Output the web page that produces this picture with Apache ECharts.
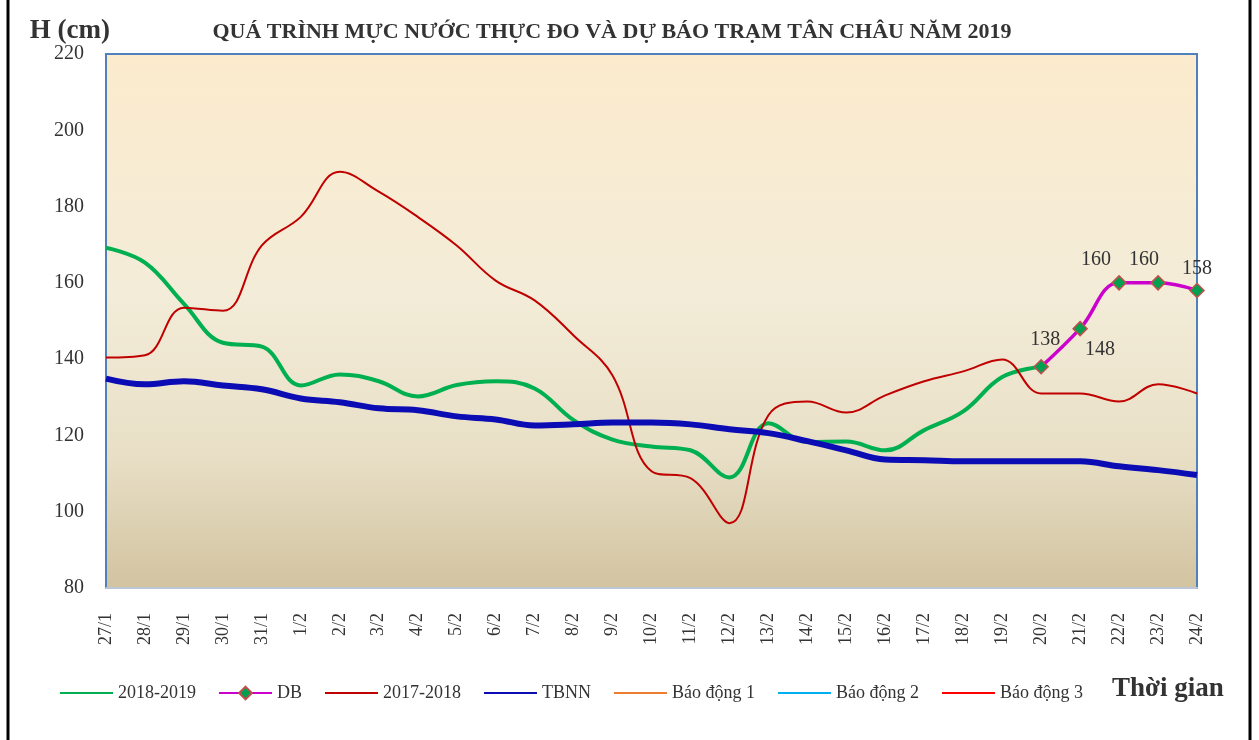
<!DOCTYPE html>
<html>
<head>
<meta charset="utf-8">
<script src="https://cdn.jsdelivr.net/npm/echarts@6/dist/echarts.min.js"></script>
<style>
	html, body { margin: 0; padding: 0; background: #fff; }
	#chart { width: 1259px; height: 740px; }
</style>
</head>
<body>
<div id="chart"></div>
<script>
// ngày quan trắc
var days = ['27/1','28/1','29/1','30/1','31/1','1/2','2/2','3/2','4/2','5/2','6/2','7/2','8/2','9/2',
	'10/2','11/2','12/2','13/2','14/2','15/2','16/2','17/2','18/2','19/2','20/2','21/2','22/2','23/2','24/2'];
// mực nước thực đo 2018-2019 (đến 20/2)
var level2019 = [169.2,165.3,154.5,144.3,143.3,133.1,136.0,134.2,130.2,133.2,134.2,132.3,124.0,118.9,
	117.1,116.1,109.0,123.2,118.3,118.4,116.1,121.4,126.3,135.3,138];
// dự báo (DB) từ 20/2
var forecastDays = ['20/2','21/2','22/2','23/2','24/2'];
var forecast = [138,148,160,160,158];
// cùng kỳ 2017-2018
var level2018 = [140.4,141.0,153.5,152.7,169.8,177.3,189.1,183.9,177.3,169.8,160.6,155.4,146.2,135.7,
	110.6,108.8,97.0,125.3,128.9,126.0,130.5,134.2,136.8,139.9,131.0,131.0,128.9,133.4,131.0];
// trung bình nhiều năm
var tbnn = [134.9,133.4,134.2,133.1,132.1,129.7,128.7,127.1,126.6,125.0,124.2,122.6,122.9,123.4,
	123.4,122.9,121.6,120.6,118.5,116.1,113.7,113.5,113.2,113.2,113.2,113.2,111.9,110.9,109.6];
var yTicks = {min: 80, max: 220, step: 20};

var font = '"Liberation Serif", "Times New Roman", serif';
var textColor = '#333333';

// vị trí nhãn số của DB (so với vị trí mặc định 'top')
var dbLabelOffset = [[4, -4], [20, 44], [-23, 0], [-14, 0], [0, 1]];
var dbSeriesData = days.map(function (d) {
	var k = forecastDays.indexOf(d);
	if (k < 0) return null;
	return { value: forecast[k], label: { offset: dbLabelOffset[k] } };
});

// biểu tượng chú giải: chỉ có đường, không có điểm (trừ DB)
var legendNames = ['2018-2019', 'DB', '2017-2018', 'TBNN', 'Báo động 1', 'Báo động 2', 'Báo động 3'];
var legendData = legendNames.map(function (n) {
	return n === 'DB' ? { name: n } : { name: n, itemStyle: { opacity: 0 } };
});

var myChart = echarts.init(document.getElementById('chart'));
var option = {
	backgroundColor: '#ffffff',
	animation: false,
	textStyle: { fontFamily: font, color: textColor },
	title: {
		text: 'QUÁ TRÌNH MỰC NƯỚC THỰC ĐO VÀ DỰ BÁO TRẠM TÂN CHÂU NĂM 2019',
		left: 607,
		top: 16,
		textAlign: 'center',
		textStyle: { fontFamily: font, fontSize: 22, fontWeight: 'bold', color: textColor }
	},
	legend: {
		left: 54,
		top: 679,
		itemWidth: 53,
		itemHeight: 16,
		itemGap: 22,
		textStyle: { fontFamily: font, fontSize: 18, color: textColor },
		lineStyle: { width: 2 },
		data: legendData
	},
	grid: {
		left: 106,
		right: 62,
		top: 54,
		bottom: 152,
		show: true,
		borderColor: '#4F81BD',
		borderWidth: 2,
		backgroundColor: new echarts.graphic.LinearGradient(0, 0, 0, 1, [
			{ offset: 0, color: '#FCEBCD' },
			{ offset: 0.45, color: '#F3ECD8' },
			{ offset: 0.75, color: '#E8DFC6' },
			{ offset: 1, color: '#D2C3A0' }
		])
	},
	xAxis: {
		type: 'category',
		boundaryGap: false,
		data: days,
		axisTick: { show: false },
		axisLine: { lineStyle: { color: '#BCC6D6', width: 2 } },
		axisLabel: {
			interval: 0,
			rotate: 90,
			margin: 25,
			fontFamily: font,
			fontSize: 18,
			color: textColor
		}
	},
	yAxis: {
		type: 'value',
		min: yTicks.min,
		max: yTicks.max,
		interval: yTicks.step,
		name: 'H (cm)',
		nameLocation: 'end',
		nameGap: 22,
		nameTextStyle: {
			fontFamily: font, fontSize: 27, fontWeight: 'bold', color: textColor,
			align: 'right', verticalAlign: 'middle', padding: [0, -4, 0, 0]
		},
		axisLine: { show: false },
		axisTick: { show: false },
		splitLine: { show: false },
		axisLabel: { margin: 22, fontFamily: font, fontSize: 20, color: textColor }
	},
	graphic: [
		{ type: 'line', shape: { x1: 8, y1: 0, x2: 8, y2: 740 }, style: { stroke: '#000', lineWidth: 3 } },
		{ type: 'line', shape: { x1: 1250, y1: 0, x2: 1250, y2: 740 }, style: { stroke: '#000', lineWidth: 3 } },
		{
			type: 'text', left: 1112, top: 676,
			style: { text: 'Thời gian', font: 'bold 27px ' + font, fill: textColor }
		}
	],
	series: [
		{
			name: '2018-2019', type: 'line', smooth: 0.4, symbol: 'none',
			color: '#00B050', lineStyle: { width: 4, color: '#00B050' },
			data: level2019
		},
		{
			name: 'DB', type: 'line', smooth: 0.4, symbol: 'diamond', symbolSize: 14,
			color: '#CC00CC',
			lineStyle: { width: 3.5, color: '#CC00CC' },
			itemStyle: { color: '#00A050', borderColor: '#C0504D', borderWidth: 1.5 },
			label: {
				show: true, position: 'top', fontFamily: font, fontSize: 20, color: textColor,
				formatter: '{c}'
			},
			z: 5,
			data: dbSeriesData
		},
		{
			name: '2017-2018', type: 'line', smooth: 0.4, symbol: 'none',
			color: '#C00000', lineStyle: { width: 2, color: '#C00000' },
			data: level2018
		},
		{
			name: 'TBNN', type: 'line', smooth: 0.4, symbol: 'none',
			color: '#0C0CB4', lineStyle: { width: 6, color: '#0C0CB4' },
			data: tbnn
		},
		{ name: 'Báo động 1', type: 'line', symbol: 'none', color: '#ED7D31', data: [] },
		{ name: 'Báo động 2', type: 'line', symbol: 'none', color: '#00B0F0', data: [] },
		{ name: 'Báo động 3', type: 'line', symbol: 'none', color: '#FF0000', data: [] }
	]
};
myChart.setOption(option);
</script>
</body>
</html>
